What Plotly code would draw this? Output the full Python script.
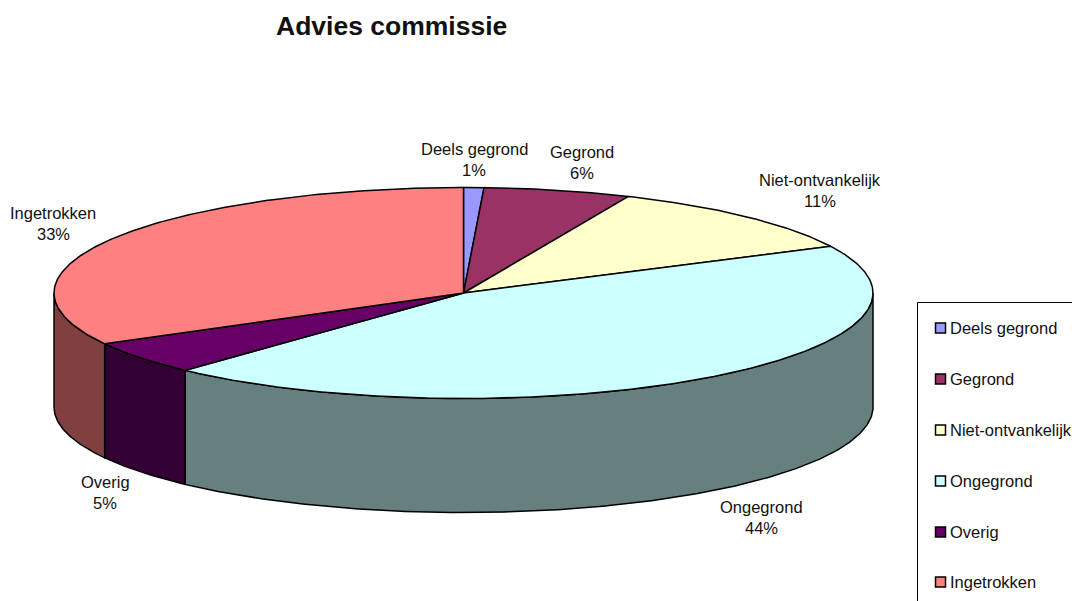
import numpy as np
import plotly.graph_objects as go

# Share of each outcome, in percent
categories = ["Deels gegrond", "Gegrond", "Niet-ontvankelijk", "Ongegrond", "Overig", "Ingetrokken"]
shares = [0.8, 5.8, 11.1, 44.2, 5.1, 33.0]
top_colors = ["#9999FF", "#993366", "#FFFFCC", "#CCFFFF", "#660066", "#FF8080"]
side_colors = ["#4C4C80", "#4C1A33", "#808066", "#668080", "#330033", "#804040"]
title = "Advies commissie"

# Pie geometry in plot units (axes run 1:1 with the page)
CX, CY, RX, RY, DEPTH = 463.5, 293, 409.5, 105.5, 114
LINE = dict(color="black", width=1.5)
FONT = "Liberation Sans, Arial, sans-serif"
TEXT = "#111111"
LABEL_FONT_SIZE = 16.5

# Centre of each slice label (x, y of name line, y of percent line)
label_spots = [(474, 149, 170), (582, 152, 173), (820, 180, 201),
               (761, 507, 528), (105, 482, 503), (53, 213, 234)]
legend_rows = [328, 379, 430, 481, 532, 582]


def rim(a0, a1):
    """Points on the top rim between two clockwise angles (degrees from 12 o'clock)."""
    n = max(2, int(abs(a1 - a0) * 2) + 1)
    t = np.radians(np.linspace(a0, a1, n))
    return CX + RX * np.sin(t), CY - RY * np.cos(t)


fig = go.Figure()


def polygon(x, y, color):
    fig.add_trace(go.Scatter(x=list(x), y=list(y), mode="lines", fill="toself",
                             fillcolor=color, line=LINE, hoverinfo="skip",
                             showlegend=False))


edges = np.concatenate([[0], np.cumsum(shares)]) * 3.6

# Side wall: only the part of each slice facing the viewer (90 to 270 degrees)
for i, color in enumerate(side_colors):
    a0, a1 = max(edges[i], 90), min(edges[i + 1], 270)
    if a1 > a0:
        x, y = rim(a0, a1)
        polygon(np.r_[x, x[::-1], x[0]], np.r_[y, y[::-1] + DEPTH, y[0]], color)

# Top faces
for i, color in enumerate(top_colors):
    x, y = rim(edges[i], edges[i + 1])
    polygon(np.r_[CX, x, CX], np.r_[CY, y, CY], color)

# Legend keys
fig.add_trace(go.Scatter(
    x=[940.5] * len(categories), y=legend_rows, mode="markers",
    marker=dict(symbol="square", size=10, color=top_colors, line=dict(color="black", width=1.5)),
    hoverinfo="skip", showlegend=False))

annotations = [dict(x=391, y=26, text=f"<b>{title}</b>", showarrow=False,
                    font=dict(family=FONT, size=26.5, color=TEXT))]

for name, share, (lx, y1, y2) in zip(categories, shares, label_spots):
    for text, ly in ((name, y1), (f"{round(share)}%", y2)):
        annotations.append(dict(x=lx, y=ly, text=text, showarrow=False,
                                font=dict(family=FONT, size=LABEL_FONT_SIZE, color=TEXT)))

for name, ly in zip(categories, legend_rows):
    annotations.append(dict(x=947.5, y=ly, text=name, showarrow=False, xanchor="left",
                            font=dict(family=FONT, size=LABEL_FONT_SIZE, color=TEXT)))

fig.update_layout(
    width=1072, height=601,
    margin=dict(l=0, r=0, t=0, b=0),
    paper_bgcolor="white", plot_bgcolor="white",
    xaxis=dict(range=[0, 1072], visible=False, fixedrange=True),
    yaxis=dict(range=[601, 0], visible=False, fixedrange=True),
    annotations=annotations,
    # Legend frame runs off the right and bottom of the page
    shapes=[dict(type="rect", x0=917.5, y0=302.5, x1=1090, y1=620,
                 line=dict(color="black", width=1), fillcolor="white", layer="below")],
)

fig.write_html("out.html", config={"displayModeBar": False})
